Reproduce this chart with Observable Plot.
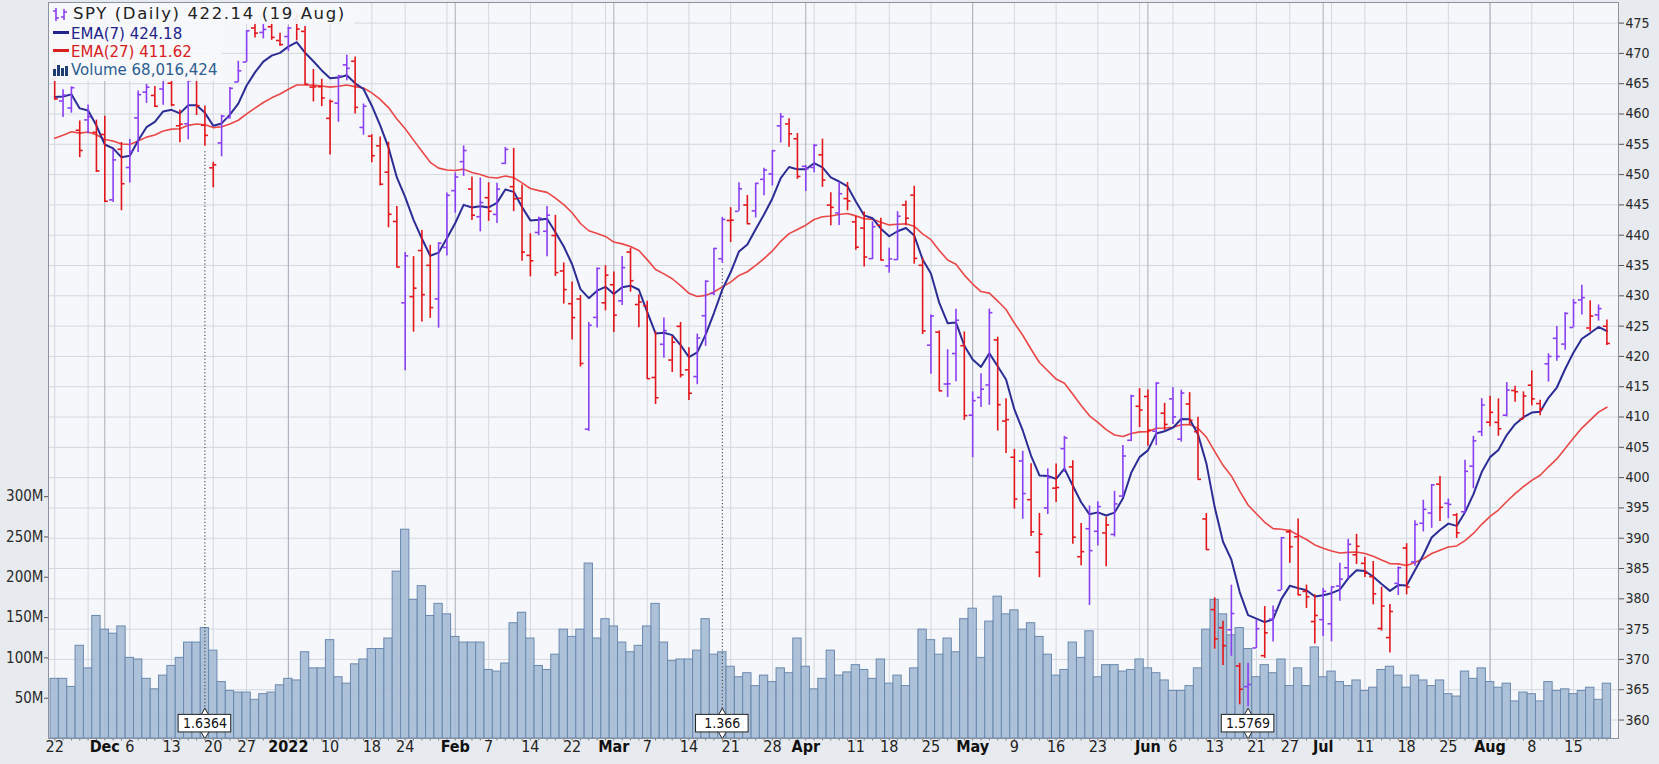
<!DOCTYPE html>
<html><head><meta charset="utf-8">
<script src="https://cdn.jsdelivr.net/npm/d3@7"></script>
<script src="https://cdn.jsdelivr.net/npm/@observablehq/plot@0.6"></script>
<style>
html,body{margin:0;padding:0;background:#e7eaee;}
#chart{position:relative;width:1659px;height:764px;overflow:hidden;background:#e7eaee;}
#chart > svg{position:absolute;left:0;top:0;}
.lg{position:absolute;white-space:nowrap;font-family:'DejaVu Sans',Verdana,sans-serif;}
</style></head><body><div id="chart"></div><script>
// ---------- data (daily SPY, raw prices; adjusted for dividends below) ----------
const dates = [
"2021-11-22","2021-11-23","2021-11-24","2021-11-26","2021-11-29","2021-11-30",
"2021-12-01","2021-12-02","2021-12-03","2021-12-06","2021-12-07","2021-12-08","2021-12-09","2021-12-10","2021-12-13","2021-12-14","2021-12-15","2021-12-16","2021-12-17","2021-12-20","2021-12-21","2021-12-22","2021-12-23","2021-12-27","2021-12-28","2021-12-29","2021-12-30","2021-12-31",
"2022-01-03","2022-01-04","2022-01-05","2022-01-06","2022-01-07","2022-01-10","2022-01-11","2022-01-12","2022-01-13","2022-01-14","2022-01-18","2022-01-19","2022-01-20","2022-01-21","2022-01-24","2022-01-25","2022-01-26","2022-01-27","2022-01-28","2022-01-31",
"2022-02-01","2022-02-02","2022-02-03","2022-02-04","2022-02-07","2022-02-08","2022-02-09","2022-02-10","2022-02-11","2022-02-14","2022-02-15","2022-02-16","2022-02-17","2022-02-18","2022-02-22","2022-02-23","2022-02-24","2022-02-25","2022-02-28",
"2022-03-01","2022-03-02","2022-03-03","2022-03-04","2022-03-07","2022-03-08","2022-03-09","2022-03-10","2022-03-11","2022-03-14","2022-03-15","2022-03-16","2022-03-17","2022-03-18","2022-03-21","2022-03-22","2022-03-23","2022-03-24","2022-03-25","2022-03-28","2022-03-29","2022-03-30","2022-03-31",
"2022-04-01","2022-04-04","2022-04-05","2022-04-06","2022-04-07","2022-04-08","2022-04-11","2022-04-12","2022-04-13","2022-04-14","2022-04-18","2022-04-19","2022-04-20","2022-04-21","2022-04-22","2022-04-25","2022-04-26","2022-04-27","2022-04-28","2022-04-29",
"2022-05-02","2022-05-03","2022-05-04","2022-05-05","2022-05-06","2022-05-09","2022-05-10","2022-05-11","2022-05-12","2022-05-13","2022-05-16","2022-05-17","2022-05-18","2022-05-19","2022-05-20","2022-05-23","2022-05-24","2022-05-25","2022-05-26","2022-05-27","2022-05-31",
"2022-06-01","2022-06-02","2022-06-03","2022-06-06","2022-06-07","2022-06-08","2022-06-09","2022-06-10","2022-06-13","2022-06-14","2022-06-15","2022-06-16","2022-06-17","2022-06-21","2022-06-22","2022-06-23","2022-06-24","2022-06-27","2022-06-28","2022-06-29","2022-06-30",
"2022-07-01","2022-07-05","2022-07-06","2022-07-07","2022-07-08","2022-07-11","2022-07-12","2022-07-13","2022-07-14","2022-07-15","2022-07-18","2022-07-19","2022-07-20","2022-07-21","2022-07-22","2022-07-25","2022-07-26","2022-07-27","2022-07-28","2022-07-29",
"2022-08-01","2022-08-02","2022-08-03","2022-08-04","2022-08-05","2022-08-08","2022-08-09","2022-08-10","2022-08-11","2022-08-12","2022-08-15","2022-08-16","2022-08-17","2022-08-18","2022-08-19"];

const opens = [
470.89,467.22,466.06,462.34,464.07,462.00,
461.64,450.73,459.17,456.13,464.41,468.70,468.15,469.23,470.19,463.09,463.42,472.57,461.55,454.48,458.61,462.79,468.75,472.06,477.72,476.98,477.93,475.64,
476.30,479.22,477.16,467.89,467.95,462.70,465.23,471.59,472.19,461.19,459.74,458.13,453.75,445.56,432.03,433.06,440.72,438.26,432.68,441.24,
450.68,455.50,450.95,446.35,449.51,446.73,455.22,451.34,449.41,439.92,443.73,443.93,443.22,437.33,431.89,432.66,411.02,429.61,432.03,
435.04,432.37,440.47,431.75,431.55,419.62,425.14,422.52,428.12,420.89,419.77,429.89,433.59,438.00,444.34,445.86,446.91,445.94,451.16,452.06,460.02,460.34,457.89,
453.31,453.13,455.22,446.89,445.59,447.97,444.11,443.08,438.03,443.55,436.81,437.86,446.92,448.54,436.91,423.67,425.83,417.24,422.29,423.59,
412.07,415.01,417.08,424.55,411.10,405.10,404.49,398.07,389.37,396.71,399.98,406.53,403.50,388.62,393.25,392.83,392.56,392.31,398.67,407.91,413.55,
415.17,409.42,412.40,414.78,408.10,413.93,409.34,394.88,379.85,376.85,376.51,370.51,365.51,371.89,370.62,376.64,381.40,391.05,390.23,381.23,376.24,
376.56,375.88,382.11,385.12,387.27,385.85,383.65,375.10,373.61,382.55,388.38,386.08,392.47,394.16,398.92,395.75,393.84,394.36,401.89,407.58,
409.15,409.12,410.30,414.37,409.66,415.25,412.22,418.78,422.99,422.03,424.77,429.32,424.69,426.86,424.98];

const highs = [
473.54,469.10,469.57,463.90,466.56,464.03,
464.67,459.07,460.30,460.79,468.88,470.00,469.63,470.90,470.56,465.74,470.86,472.87,464.74,455.40,463.21,467.81,472.19,477.31,478.81,478.56,479.00,476.86,
477.85,479.98,477.98,470.82,469.20,465.74,469.85,473.20,472.88,465.09,459.96,459.61,458.74,448.06,440.38,439.72,444.04,441.59,442.00,450.28,
453.63,458.12,452.97,452.78,451.99,451.92,457.88,457.71,451.61,443.50,446.28,448.06,446.57,438.66,435.50,433.26,428.76,437.84,438.20,
437.17,439.72,441.11,433.37,432.30,427.21,429.51,426.43,428.77,424.55,426.84,435.68,441.07,444.86,446.46,450.58,448.49,450.50,452.98,455.91,462.07,461.19,458.76,
453.46,456.91,457.83,448.93,450.69,450.63,445.00,445.75,444.11,444.73,439.75,445.80,447.57,450.01,438.08,428.69,426.04,422.92,429.64,425.87,
415.92,418.93,429.66,425.00,414.80,406.41,406.08,404.04,395.80,403.18,403.97,408.57,404.52,394.14,397.03,397.73,395.15,399.45,407.04,415.38,416.46,
416.24,417.44,414.04,416.61,416.22,415.82,411.74,395.78,381.81,377.94,383.90,370.94,369.38,376.53,378.72,378.83,390.09,391.36,393.16,382.27,380.66,
381.70,381.98,385.87,389.83,390.64,386.87,386.16,381.92,379.05,385.25,389.09,392.87,396.26,398.84,400.18,396.47,394.06,402.88,406.80,413.03,
413.41,413.00,415.68,415.09,414.15,417.62,412.75,420.43,424.95,427.21,429.40,431.73,429.17,428.49,426.00];

const lows = [
467.35,464.45,465.19,457.77,461.73,455.30,
450.29,450.31,448.92,453.56,458.65,466.83,466.14,466.51,466.27,460.25,460.74,464.80,458.06,451.14,456.31,462.58,468.64,472.01,476.06,475.92,475.67,474.67,
473.85,475.58,468.28,465.43,464.65,456.60,462.05,468.94,463.44,459.90,455.31,451.46,444.50,437.95,420.76,427.15,428.86,429.45,427.82,439.81,
446.94,453.05,445.71,443.83,445.58,445.22,455.01,447.20,438.94,436.35,443.18,439.69,436.42,431.82,425.86,421.35,410.64,427.86,430.70,
427.11,431.57,433.80,427.88,419.36,415.12,422.82,420.44,419.53,415.79,418.42,424.80,433.19,437.22,440.68,445.86,443.71,444.76,448.43,450.06,457.18,456.47,451.16,
449.14,452.26,449.82,443.47,443.53,445.94,439.39,436.65,437.84,437.68,435.61,437.68,443.48,437.10,425.44,418.84,416.07,415.01,417.60,411.21,
405.02,413.36,413.71,409.44,405.73,396.50,394.82,391.96,385.15,395.61,397.60,402.58,390.70,387.11,380.54,390.38,386.96,391.89,398.45,407.70,410.03,
406.93,407.04,409.51,410.55,407.61,410.38,401.44,389.75,373.30,370.59,372.12,364.08,362.17,371.81,370.18,372.89,381.37,385.86,380.53,378.42,372.56,
373.80,372.90,379.60,383.27,385.66,383.50,378.99,374.66,371.04,380.54,380.66,385.39,391.03,391.63,392.75,393.21,389.95,394.05,398.15,406.77,
408.40,406.82,410.00,412.44,409.60,411.83,410.22,415.76,419.21,421.03,424.72,426.82,424.06,425.84,421.80];

const closes = [
467.57,468.19,469.44,458.97,464.60,455.56,
450.50,457.40,453.42,458.79,468.28,469.52,466.35,470.74,466.57,463.36,470.60,466.45,459.87,454.98,463.06,467.69,470.60,477.26,476.87,477.48,476.16,474.96,
477.71,477.55,468.38,467.94,466.09,465.51,469.75,471.02,464.53,464.72,456.49,451.75,446.75,437.98,439.84,434.47,433.38,431.24,441.95,449.91,
452.95,457.35,446.60,448.70,447.26,450.94,457.54,449.32,440.46,439.02,446.10,446.60,437.06,434.23,429.57,421.95,428.30,437.75,436.63,
429.98,437.89,435.71,432.17,419.43,416.25,427.41,425.48,420.07,417.00,426.17,435.62,441.07,444.52,444.39,449.59,443.80,450.49,452.69,455.91,461.55,458.70,451.64,
452.92,456.80,451.03,446.52,448.77,447.57,439.92,438.29,443.31,437.79,437.97,445.04,444.71,438.06,426.04,428.51,416.10,417.27,427.81,412.00,
414.48,416.38,429.06,413.81,411.34,398.17,399.09,392.75,392.34,401.72,400.09,408.32,391.86,389.46,389.63,396.92,393.89,397.37,405.31,415.26,412.93,
409.59,417.39,410.54,411.79,415.74,411.22,401.44,389.80,375.00,373.87,379.20,366.65,365.86,375.07,374.39,378.06,390.08,388.59,380.65,380.34,377.25,
381.24,381.96,383.25,388.99,388.67,384.23,380.83,378.83,377.91,385.13,381.95,392.27,394.77,398.79,395.09,395.57,390.89,401.04,406.07,411.99,
410.77,408.06,414.45,414.17,413.47,412.99,411.35,419.99,419.99,427.10,428.86,429.70,426.65,427.89,422.14];

// volume in millions of shares
const volumesM = [
74,74,64,115,87,152,135,130,139,100,98,74,61,78,90,100,119,119,137,109,70,59,57,57,48,55,57,66,74,72,
107,87,87,122,76,68,92,98,111,111,124,207,259,172,189,152,167,154,
126,119,119,119,85,83,93,143,156,124,90,85,104,135,126,135,217,124,148,139,119,107,115,139,167,119,96,98,98,109,
148,104,107,89,76,81,65,78,70,87,81,124,89,61,74,109,78,82,
91,85,74,98,68,78,65,87,135,122,104,124,107,148,161,100,145,176,154,159,135,143,126,104,78,85,119,100,133,76,
91,91,83,85,98,87,81,72,59,59,65,87,135,172,154,128,137,
111,76,91,81,98,65,87,65,113,76,83,70,65,72,59,63,85,89,78,63,78,72,65,72,55,52,83,74,87,70,
63,68,46,57,55,46,70,59,61,55,59,63,48,68];

const priorClose = 468.89;           // close before the first bar (sets first bar colour)
const divDates = ["2021-12-17","2022-03-18","2022-06-17"];
const divAmounts = [1.6364, 1.366, 1.5769];
const divLabels = ["1.6364","1.366","1.5769"];
const ema7Start = 462.8, ema27Start = 456.0;   // indicator values at the first bar (from chart)

const priceTicks = [360,365,370,375,380,385,390,395,400,405,410,415,420,425,430,435,440,445,450,455,460,465,470,475];
const volumeTicksM = [50,100,150,200,250,300];
const labelDates = ["2021-11-22","2021-12-01","2021-12-06","2021-12-13","2021-12-20","2021-12-27","2022-01-03","2022-01-10","2022-01-18","2022-01-24",
 "2022-02-01","2022-02-07","2022-02-14","2022-02-22","2022-03-01","2022-03-07","2022-03-14","2022-03-21","2022-03-28","2022-04-01","2022-04-11","2022-04-18","2022-04-25",
 "2022-05-02","2022-05-09","2022-05-16","2022-05-23","2022-06-01","2022-06-06","2022-06-13","2022-06-21","2022-06-27","2022-07-01","2022-07-11","2022-07-18","2022-07-25",
 "2022-08-01","2022-08-08","2022-08-15"];
const labelTexts = ["22","Dec","6","13","20","27","2022","10","18","24","Feb","7","14","22","Mar","7","14","21","28","Apr","11","18","25",
 "May","9","16","23","Jun","6","13","21","27","Jul","11","18","25","Aug","8","15"];
const labelBold = ["Dec","2022","Feb","Mar","Apr","May","Jun","Jul","Aug"];

// ---------- derived ----------
const N = dates.length;
const idxOf = new Map(dates.map((d,i)=>[d,i]));
const divIdx = divDates.map(d=>idxOf.get(d));
const divFactor = divIdx.map((e,k)=>1 - divAmounts[k]/closes[e-1]);
const adj = d3.range(N).map(i => divIdx.reduce((f,e,k)=> i < e ? f*divFactor[k] : f, 1));
const bars = d3.range(N).map(i => ({i, o:opens[i]*adj[i], h:highs[i]*adj[i], l:lows[i]*adj[i], c:closes[i]*adj[i], v:volumesM[i]*1e6}));
bars.forEach((b,i)=>{ const pc = i ? bars[i-1].c : priorClose*adj[0]; b.up = b.c >= pc; });
let e7 = ema7Start, e27 = ema27Start;
bars.forEach((b,i)=>{ if(i){ e7 += (2/8)*(b.c-e7); e27 += (2/28)*(b.c-e27);} b.e7=e7; b.e27=e27; });
const upBars = bars.filter(b=>b.up), dnBars = bars.filter(b=>!b.up);
const wd = dates.map(d=>new Date(d+"T00:00:00Z"));
const weekStarts = d3.range(N).filter(i => i===0 || wd[i].getUTCDay() <= wd[i-1].getUTCDay());
const monthStarts = d3.range(1,N).filter(i => wd[i].getUTCMonth() !== wd[i-1].getUTCMonth());
const labels = labelDates.map((d,k)=>({i:idxOf.get(d), t:labelTexts[k], bold:labelBold.includes(labelTexts[k])}));
const divs = divIdx.map((e,k)=>({i:e, low:bars[e].l, t:divLabels[k]}));

// ---------- layout ----------
const W = 1659, H = 764;
const M = {marginLeft:48, marginRight:41, marginTop:2, marginBottom:26};
const xDomain = [-0.743, 187.39];
const pDomain = [356.95, 478.4];
const COND = "'DejaVu Sans Condensed','Liberation Sans Narrow','Arial Narrow','DejaVu Sans',sans-serif";
const PURPLE = "#8b3ff2", RED = "#e3161b";
const baseStyle = {background:"transparent", fontFamily:COND, fontSize:"14px", color:"#2a2a2a", overflow:"visible"};

const basePlot = Plot.plot({
  width:W, height:H, ...M, style:baseStyle,
  x:{type:"linear", domain:xDomain, axis:null},
  y:{domain:pDomain, label:null},
  marks:[
    Plot.frame({fill:"#f5f7fa"}),
    Plot.ruleY(priceTicks, {stroke:"#d3d8e0", strokeWidth:1}),
    Plot.ruleX(weekStarts, {stroke:"#d3d8e0", strokeWidth:1}),
    Plot.ruleX(monthStarts, {stroke:"#a9b0ba", strokeWidth:1}),
    Plot.axisY(priceTicks, {anchor:"right", label:null, tickSize:5, tickPadding:2, fontSize:14, stroke:"#555"})
  ]
});

const volPlot = Plot.plot({
  width:W, height:H, ...M, style:baseStyle,
  x:{type:"linear", domain:xDomain, axis:null},
  y:{domain:[0, 913e6], label:null},
  marks:[
    Plot.rectY(bars, {x1:d=>d.i-0.5, x2:d=>d.i+0.5, y:"v", fill:"#a5bad5", fillOpacity:0.9, stroke:"#6b8aae", strokeWidth:1}),
    Plot.axisY(volumeTicksM.map(v=>v*1e6), {anchor:"left", label:null, tickSize:4, tickPadding:1, fontSize:15, stroke:"#555", tickFormat:d=>(d/1e6)+"M"})
  ]
});

const topPlot = Plot.plot({
  width:W, height:H, ...M, style:baseStyle,
  x:{type:"linear", domain:xDomain, axis:null},
  y:{domain:pDomain, axis:null},
  marks:[
    Plot.ruleX(divs, {x:"i", y1:d=>d.low-0.9, y2:360.9, stroke:"#333", strokeWidth:1, strokeDasharray:"1.2,2.2"}),
    Plot.line(bars, {x:"i", y:"e27", stroke:"#ea4747", strokeWidth:1.6}),
    Plot.line(bars, {x:"i", y:"e7", stroke:"#2c2d94", strokeWidth:2}),
    Plot.ruleX(upBars, {x:"i", y1:"l", y2:"h", stroke:PURPLE, strokeWidth:1.6}),
    Plot.ruleY(upBars, {y:"o", x1:d=>d.i-0.42, x2:"i", stroke:PURPLE, strokeWidth:1.6}),
    Plot.ruleY(upBars, {y:"c", x1:"i", x2:d=>d.i+0.42, stroke:PURPLE, strokeWidth:1.6}),
    Plot.ruleX(dnBars, {x:"i", y1:"l", y2:"h", stroke:RED, strokeWidth:1.6}),
    Plot.ruleY(dnBars, {y:"o", x1:d=>d.i-0.42, x2:"i", stroke:RED, strokeWidth:1.6}),
    Plot.ruleY(dnBars, {y:"c", x1:"i", x2:d=>d.i+0.42, stroke:RED, strokeWidth:1.6}),
    Plot.dot(divs, {x:"i", y:360.85, symbol:"diamond", r:4, fill:"white", stroke:"#222", strokeWidth:1}),
    Plot.dot(divs, {x:"i", y:358.0, symbol:"diamond", r:4, fill:"white", stroke:"#222", strokeWidth:1}),
    Plot.rect(divs, {x1:d=>d.i-3.15, x2:d=>d.i+3.15, y1:357.95, y2:360.85, fill:"white", stroke:"#222", strokeWidth:1}),
    Plot.text(divs, {x:"i", y:359.4, text:"t", fontSize:14, fontFamily:COND, fill:"#111"}),
    Plot.ruleX(d3.range(N), {x:d=>d, y1:pDomain[0], y2:pDomain[0]-0.4, stroke:"#777"}),
    Plot.text(labels.filter(d=>!d.bold), {x:"i", text:"t", frameAnchor:"bottom", dy:13, fontSize:16, fontFamily:COND, fill:"#222"}),
    Plot.text(labels.filter(d=>d.bold), {x:"i", text:"t", frameAnchor:"bottom", dy:13, fontSize:16, fontWeight:"bold", fontFamily:COND, fill:"#111"}),
    Plot.frame({stroke:"#8a939f"})
  ]
});

const chart = document.getElementById("chart");
chart.append(basePlot, volPlot, topPlot);

const lg = document.createElement("div");
lg.innerHTML = `
<div class="lg" style="left:49px;top:3px;width:305px;height:21px;background:rgba(245,247,250,0.93)"></div>
<div class="lg" style="left:49px;top:24px;width:173px;height:57px;background:rgba(245,247,250,0.93)"></div>
<svg class="lg" style="left:52px;top:7px" width="18" height="15"><path d="M4 1V14M1 4H4M4 11H7M12 2V13M9 10H12M12 5H15" stroke="${PURPLE}" stroke-width="1.6" fill="none"/></svg>
<div class="lg" style="left:73px;top:4px;font-size:16.5px;line-height:20px;letter-spacing:1.6px;color:#222">SPY (Daily) 422.14 (19 Aug)</div>
<div class="lg" style="left:53px;top:31px;width:16px;height:3px;background:#23238a"></div>
<div class="lg" style="left:71px;top:25px;font-size:15px;line-height:18px;color:#23238a">EMA(7) 424.18</div>
<div class="lg" style="left:53px;top:49px;width:16px;height:3px;background:#d92020"></div>
<div class="lg" style="left:71px;top:43px;font-size:15px;line-height:18px;color:#d92020">EMA(27) 411.62</div>
<svg class="lg" style="left:53px;top:64px" width="17" height="12"><rect x="0" y="5" width="3" height="7" fill="#1f3f70"/><rect x="4" y="1" width="3" height="11" fill="#1f3f70"/><rect x="8" y="4" width="3" height="8" fill="#1f3f70"/><rect x="12" y="2" width="3" height="10" fill="#1f3f70"/></svg>
<div class="lg" style="left:71px;top:61px;font-size:15px;line-height:18px;color:#2d5e90">Volume 68,016,424</div>
`;
chart.append(lg);
</script></body></html>
